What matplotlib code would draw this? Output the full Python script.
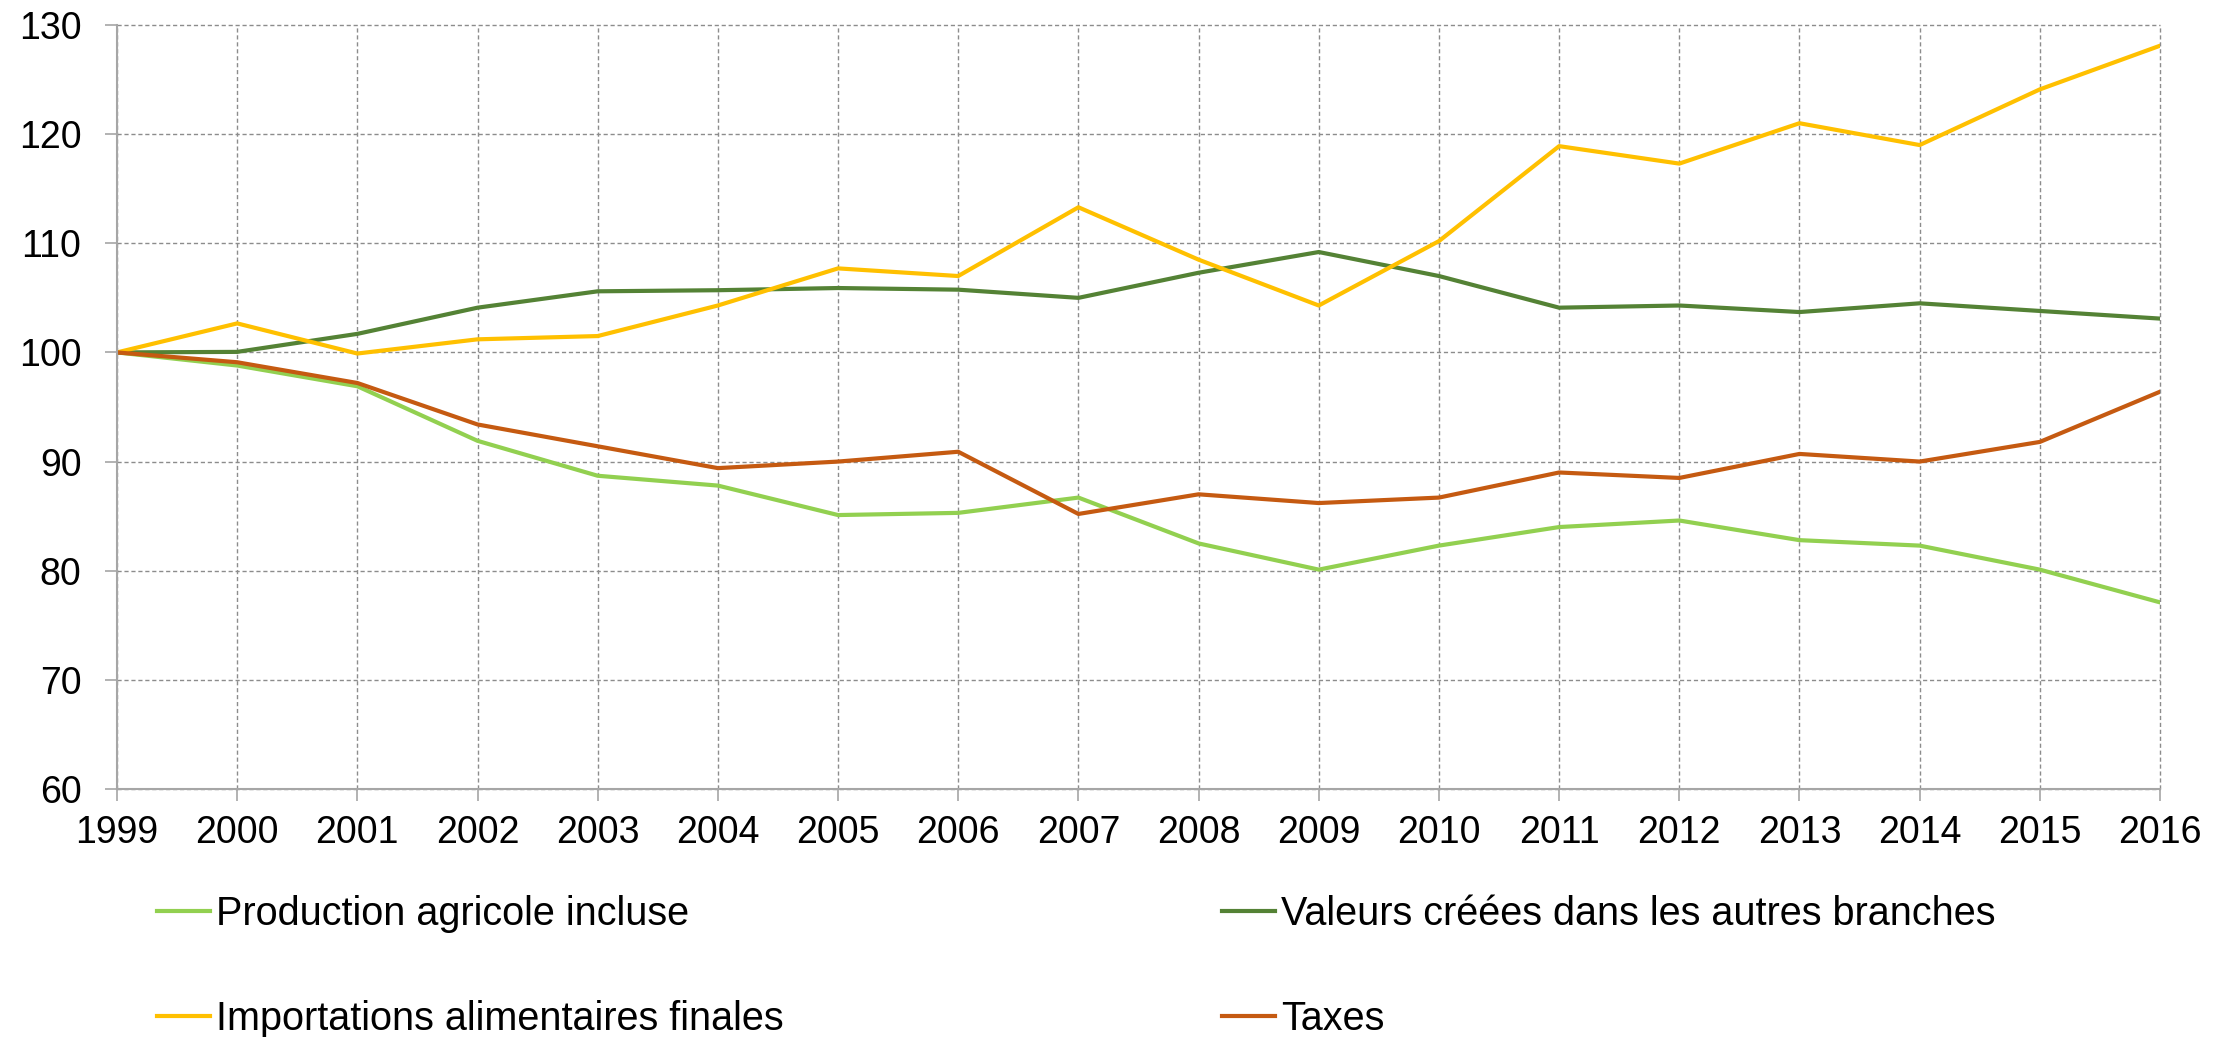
import matplotlib
matplotlib.use("Agg")
import matplotlib.pyplot as plt

years = list(range(1999, 2017))

production_agricole = [100, 98.8, 96.9, 91.9, 88.7, 87.8, 85.1, 85.3, 86.7, 82.5,
                       80.1, 82.3, 84.0, 84.6, 82.8, 82.3, 80.1, 77.1]
valeurs_autres = [100, 100.05, 101.7, 104.1, 105.6, 105.7, 105.9, 105.75, 105.0, 107.3,
                  109.2, 107.0, 104.1, 104.3, 103.7, 104.5, 103.8, 103.1]
importations = [100, 102.66, 99.9, 101.2, 101.5, 104.3, 107.7, 107.0, 113.3, 108.5,
                104.3, 110.2, 118.9, 117.3, 121.0, 119.0, 124.1, 128.1]
taxes = [100, 99.1, 97.2, 93.4, 91.4, 89.4, 90.0, 90.9, 85.2, 87.0,
         86.2, 86.7, 89.0, 88.5, 90.7, 90.0, 91.8, 96.4]

labels = ["Production agricole incluse", "Valeurs créées dans les autres branches",
          "Importations alimentaires finales", "Taxes"]
colors = ["#92D050", "#548235", "#FFC000", "#C55A11"]
yticks = [60, 70, 80, 90, 100, 110, 120, 130]

plt.rcParams['font.family'] = ['Liberation Sans', 'DejaVu Sans']

W, H = 2234, 1037
fig = plt.figure(figsize=(W / 100, H / 100), dpi=100)
ax = fig.add_axes([117 / W, 1 - 789 / H, (2160 - 117) / W, (789 - 25) / H])

series = [production_agricole, valeurs_autres, importations, taxes]
handles = []
for s, c, l in zip(series, colors, labels):
    h, = ax.plot(years, s, color=c, lw=3.0, label=l)
    handles.append(h)

ax.set_xlim(1999, 2016)
ax.set_ylim(60, 130)
ax.set_xticks(years)
ax.set_yticks(yticks)
ax.tick_params(axis='both', labelsize=27, length=8.6, width=1.2, color='#A6A6A6')
ax.tick_params(axis='x', pad=10)
ax.tick_params(axis='y', pad=17)
ax.grid(True, color='#8C8C8C', linestyle=(0, (3, 2)), linewidth=1.0)
ax.set_axisbelow(True)
for gl in ax.get_xgridlines() + ax.get_ygridlines():
    gl.set_clip_on(False)
for side in ['top', 'right']:
    ax.spines[side].set_visible(False)
for side in ['left', 'bottom']:
    ax.spines[side].set_color('#A6A6A6')
    ax.spines[side].set_linewidth(1.5)

# legend layout: order so that rows read Production/Valeurs, Importations/Taxes
leg_fs = 28.5
fs_px = leg_fs * 100 / 72
renderer = fig.canvas.get_renderer()
tmp = fig.text(0, 0, labels[2], fontsize=leg_fs)
w_text = tmp.get_window_extent(renderer).width
tmp.remove()
handlelength = 1.35
handletextpad = 0.15
col1_x, col2_x = 157, 1222
colspacing = (col2_x - col1_x - (handlelength + handletextpad) * fs_px - w_text) / fs_px

order = [0, 2, 1, 3]
leg = fig.legend(handles=[handles[i] for i in order], labels=[labels[i] for i in order],
                 loc='upper left', ncol=2, bbox_to_anchor=(col1_x / W, 0.137),
                 frameon=False, fontsize=leg_fs, handlelength=handlelength,
                 handletextpad=handletextpad, columnspacing=colspacing,
                 labelspacing=1.7, borderaxespad=0, borderpad=0)

fig.savefig("out.png", dpi=100)
